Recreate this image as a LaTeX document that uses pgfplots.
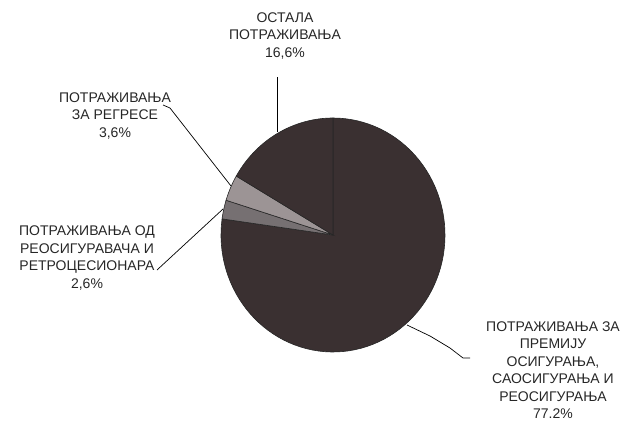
\documentclass[border=0pt]{standalone}
\usepackage{pgfplots}
\pgfplotsset{compat=1.18}
\usepackage{pgfplotstable}
\usepackage{fontspec}
\setmainfont{Liberation Sans}
\definecolor{piedark}{HTML}{3A3031}
\definecolor{piemid}{HTML}{767072}
\definecolor{pielight}{HTML}{9C9495}
\definecolor{txt}{HTML}{262626}
% shares in percent, clockwise from the top
\pgfplotstableread{
name pct start
premije 77.2 0
reos 2.6 77.2
regresi 3.6 79.8
ostala 16.6 83.4
}\piedata
\newcommand{\pieslice}[3]{%
  \addplot[fill=#3, draw=black!85, line width=0.6pt, samples=90, variable=\t,
    domain={90-3.6*(#1+#2)}:{90-3.6*#1}]
    ({333+112*cos(\t)},{187+117*sin(\t)}) -- (axis cs:333,187) -- cycle;}
\begin{document}
\begin{tikzpicture}
\begin{axis}[width=633pt, height=422pt, scale only axis,
  xmin=0, xmax=633, ymin=0, ymax=422, axis lines=none, clip=false]
\path (axis cs:0,0) rectangle (axis cs:633,422);
\pieslice{0}{77.2}{piedark}
\pieslice{77.2}{2.6}{piemid}
\pieslice{79.8}{3.6}{pielight}
\pieslice{83.4}{16.6}{piedark}
% leader lines
\addplot[black, line width=0.7pt] coordinates {(277,345) (277,290)};
\addplot[black, line width=0.7pt] coordinates {(163,317) (170,314) (231,236)};
\addplot[black, line width=0.7pt] coordinates {(157,152) (223,213)};
\addplot[black, line width=0.7pt] coordinates {(407,97) (430,86) (450,74) (463,64) (470,64)};
% labels
\begin{scope}[every node/.style={align=center, text=txt, font=\fontsize{14}{17.5}\selectfont}]
\node at (axis cs:285,386) {ОСТАЛА\\ПОТРАЖИВАЊА\\16,6\%};
\node at (axis cs:115,306) {ПОТРАЖИВАЊА\\ЗА РЕГРЕСЕ\\3,6\%};
\node at (axis cs:87,164) {ПОТРАЖИВАЊА ОД\\РЕОСИГУРАВАЧА И\\РЕТРОЦЕСИОНАРА\\2,6\%};
\node at (axis cs:553,52) {ПОТРАЖИВАЊА ЗА\\ПРЕМИЈУ\\ОСИГУРАЊА,\\САОСИГУРАЊА И\\РЕОСИГУРАЊА\\77.2\%};
\end{scope}
\end{axis}
\end{tikzpicture}
\end{document}
